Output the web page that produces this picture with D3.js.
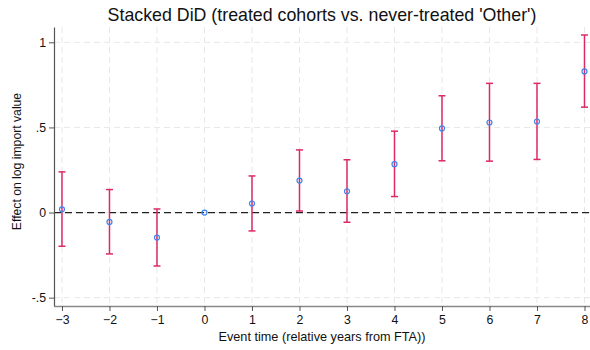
<!DOCTYPE html>
<html>
<head>
<meta charset="utf-8">
<script src="https://cdn.jsdelivr.net/npm/d3@7"></script>
<style>
  body { margin: 0; background: #fff; }
  text { font-family: "Liberation Sans", Arial, sans-serif; }
</style>
</head>
<body>
<div class="svg"></div>
<script>
const eventTime = [-3, -2, -1, 0, 1, 2, 3, 4, 5, 6, 7, 8];
const estimate = [0.019, -0.055, -0.147, 0, 0.053, 0.188, 0.125, 0.284, 0.494, 0.529, 0.535, 0.829];
const ciLow = [-0.198, -0.243, -0.314, null, -0.108, 0.009, -0.057, 0.094, 0.304, 0.302, 0.312, 0.619];
const ciHigh = [0.239, 0.135, 0.021, null, 0.215, 0.368, 0.31, 0.478, 0.686, 0.759, 0.759, 1.043];
const yTicks = [-0.5, 0, 0.5, 1];
const yTickLabels = ['-.5', '0', '.5', '1'];

const w = 590;
const h = 350;
const padL = 54, padR = 590, padT = 27, padB = 306;

const svg = d3.select('.svg').append('svg').attr('width', w).attr('height', h);

const xScale = d3.scaleLinear().domain([-3.168, 8.116]).range([padL, padR]);
const yScale = d3.scaleLinear().domain([-0.549, 1.09]).range([padB, padT]);

// grid
svg.append('g').selectAll('line').data(eventTime).enter().append('line')
  .attr('x1', d => xScale(d)).attr('x2', d => xScale(d))
  .attr('y1', padT).attr('y2', padB)
  .attr('stroke', '#e8e8e8').attr('stroke-dasharray', '6,4');
svg.append('g').selectAll('line').data(yTicks).enter().append('line')
  .attr('x1', padL).attr('x2', padR)
  .attr('y1', d => yScale(d)).attr('y2', d => yScale(d))
  .attr('stroke', '#e8e8e8').attr('stroke-dasharray', '6,4');

// zero line
svg.append('line')
  .attr('x1', padL).attr('x2', padR)
  .attr('y1', yScale(0)).attr('y2', yScale(0))
  .attr('stroke', '#222').attr('stroke-width', 1.3).attr('stroke-dasharray', '7,4');

// axes
const xAxis = svg.append('g').attr('transform', `translate(0, ${padB})`)
  .call(d3.axisBottom(xScale).tickValues(eventTime).tickFormat(d3.format('d')).tickSize(5).tickSizeOuter(0));
xAxis.select('.domain').attr('stroke', '#888').attr('stroke-width', 1.5);
xAxis.selectAll('.tick line').attr('stroke', '#555');
xAxis.selectAll('text').attr('font-size', 12.3).attr('fill', '#111').attr('dy', '0.85em');

const yAxis = svg.append('g').attr('transform', `translate(${padL}, 0)`)
  .call(d3.axisLeft(yScale).tickValues(yTicks).tickFormat((d, i) => yTickLabels[i]).tickSize(5).tickSizeOuter(0));
yAxis.select('.domain').attr('stroke', '#555').attr('stroke-width', 1.2);
yAxis.selectAll('.tick line').attr('stroke', '#555');
yAxis.selectAll('text').attr('font-size', 12.3).attr('fill', '#111');

// confidence intervals
const ciData = eventTime.map((t, i) => ({ t, lo: ciLow[i], hi: ciHigh[i] })).filter(d => d.lo !== null);
const ci = svg.append('g').attr('stroke', '#dd2a63').attr('stroke-width', 1.5);
ci.selectAll('.ci').data(ciData).enter().append('line')
  .attr('x1', d => xScale(d.t)).attr('x2', d => xScale(d.t))
  .attr('y1', d => yScale(d.lo)).attr('y2', d => yScale(d.hi));
ci.selectAll('.cap-hi').data(ciData).enter().append('line')
  .attr('x1', d => xScale(d.t) - 3.5).attr('x2', d => xScale(d.t) + 3.5)
  .attr('y1', d => yScale(d.hi)).attr('y2', d => yScale(d.hi));
ci.selectAll('.cap-lo').data(ciData).enter().append('line')
  .attr('x1', d => xScale(d.t) - 3.5).attr('x2', d => xScale(d.t) + 3.5)
  .attr('y1', d => yScale(d.lo)).attr('y2', d => yScale(d.lo));

// point estimates
svg.append('g').selectAll('circle').data(eventTime).enter().append('circle')
  .attr('cx', d => xScale(d)).attr('cy', (d, i) => yScale(estimate[i]))
  .attr('r', 2.5).attr('fill', 'none').attr('stroke', '#3d85f0').attr('stroke-width', 1.2);

// labels
svg.append('text').attr('x', (padL + padR) / 2).attr('y', 21).attr('text-anchor', 'middle')
  .attr('font-size', 17.8).attr('fill', '#111')
  .text("Stacked DiD (treated cohorts vs. never-treated 'Other')");
svg.append('text').attr('x', (padL + padR) / 2).attr('y', 341).attr('text-anchor', 'middle')
  .attr('font-size', 12.7).attr('fill', '#111')
  .text('Event time (relative years from FTA))');
svg.append('text').attr('transform', 'translate(21, 161.5) rotate(-90)')
  .attr('text-anchor', 'middle').attr('font-size', 12.2).attr('fill', '#111')
  .text('Effect on log import value');
</script>
</body>
</html>
